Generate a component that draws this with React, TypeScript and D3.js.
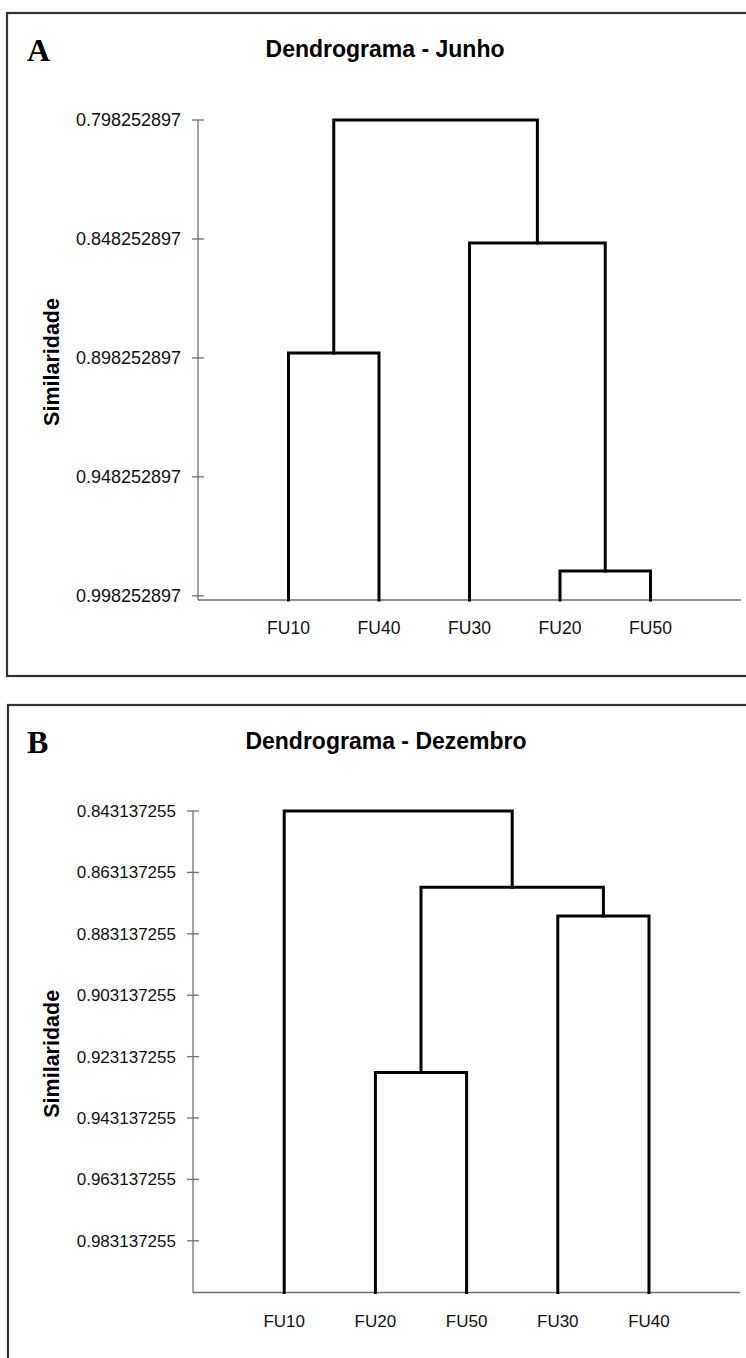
import React from "react";
import * as d3 from "d3";

// ---- Panel A (Junho) ----
const junhoLeaves = ["FU10", "FU40", "FU30", "FU20", "FU50"];
// merges: node ids 0..4 are leaves, 5.. are merges in order
const junhoMergeLeft = [3, 0, 2, 6];
const junhoMergeRight = [4, 1, 5, 7];
const junhoMergeHeight = [0.9878, 0.8962, 0.8499, 0.798252897];
const junhoTicks = [0.798252897, 0.848252897, 0.898252897, 0.948252897, 0.998252897];

// ---- Panel B (Dezembro) ----
const dezLeaves = ["FU10", "FU20", "FU50", "FU30", "FU40"];
const dezMergeLeft = [1, 3, 5, 0];
const dezMergeRight = [2, 4, 6, 7];
const dezMergeHeight = [0.9283, 0.8773, 0.868, 0.843137255];
const dezTicks = [
  0.843137255, 0.863137255, 0.883137255, 0.903137255,
  0.923137255, 0.943137255, 0.963137255, 0.983137255,
];

const FONT = "'Liberation Sans', Arial, Helvetica, sans-serif";

type PanelProps = {
  letter: string;
  title: string;
  leaves: string[];
  mergeLeft: number[];
  mergeRight: number[];
  mergeHeight: number[];
  ticks: number[];
  frame: { x: number; y: number; w: number; h: number };
  axisX: number;
  step: number;
  yTop: number;
  yBottom: number;
  titleX: number;
  titleY: number;
  titleSize: number;
  letterY: number;
  yLabelSize: number;
  tickSize: number;
  leafSize: number;
};

function Panel(p: PanelProps) {
  const y = d3.scaleLinear().domain([p.ticks[0], 1]).range([p.yTop, p.yBottom]);
  const x = d3.scaleLinear().domain([0, p.leaves.length + 1]).range([p.axisX, p.axisX + (p.leaves.length + 1) * p.step]);

  const n = p.leaves.length;
  const nodeX: number[] = p.leaves.map((_, i) => x(i + 1));
  const nodeH: number[] = p.leaves.map(() => 1);
  const paths: string[] = [];
  p.mergeLeft.forEach((l, k) => {
    const r = p.mergeRight[k];
    const h = p.mergeHeight[k];
    const path = d3.path();
    path.moveTo(nodeX[l], y(nodeH[l]));
    path.lineTo(nodeX[l], y(h));
    path.lineTo(nodeX[r], y(h));
    path.lineTo(nodeX[r], y(nodeH[r]));
    paths.push(path.toString());
    nodeX[n + k] = (nodeX[l] + nodeX[r]) / 2;
    nodeH[n + k] = h;
  });

  const axisColor = "#707070";
  const yMid = (y(p.ticks[0]) + y(1)) / 2;
  return (
    <g>
      <rect x={p.frame.x} y={p.frame.y} width={p.frame.w} height={p.frame.h} fill="white" stroke="#333" strokeWidth={2.2} />
      <text x={27} y={p.letterY} fontFamily="'Liberation Serif', 'Times New Roman', serif" fontWeight="bold" fontSize={32} fill="#000">
        {p.letter}
      </text>
      <text x={p.titleX} y={p.titleY} textAnchor="middle" fontFamily={FONT} fontWeight="bold" fontSize={p.titleSize} fill="#000">
        {p.title}
      </text>
      <text
        transform={`translate(59,${yMid + 2}) rotate(-90)`}
        textAnchor="middle"
        fontFamily={FONT}
        fontWeight="bold"
        fontSize={p.yLabelSize}
        fill="#000"
      >
        Similaridade
      </text>
      {/* y axis */}
      <line x1={p.axisX} x2={p.axisX} y1={y(p.ticks[0])} y2={y(1)} stroke={axisColor} strokeWidth={1.3} />
      {p.ticks.map((t) => (
        <g key={t}>
          <line x1={p.axisX - 6} x2={p.axisX + 6} y1={y(t)} y2={y(t)} stroke={axisColor} strokeWidth={1.3} />
          <text x={p.axisX - 17} y={y(t)} dy="0.35em" textAnchor="end" fontFamily={FONT} fontSize={p.tickSize} fill="#111">
            {t.toFixed(9)}
          </text>
        </g>
      ))}
      {/* baseline */}
      <line x1={p.axisX} x2={x(n + 1)} y1={y(1)} y2={y(1)} stroke={axisColor} strokeWidth={1.5} />
      {/* dendrogram */}
      {paths.map((d, i) => (
        <path key={i} d={d} fill="none" stroke="#000" strokeWidth={3} strokeLinejoin="miter" strokeLinecap="square" />
      ))}
      {p.leaves.map((name, i) => (
        <text key={name} x={x(i + 1)} y={y(1) + 34} textAnchor="middle" fontFamily={FONT} fontSize={p.leafSize} fill="#111">
          {name}
        </text>
      ))}
    </g>
  );
}

export default function App() {
  return (
    <svg width={746} height={1358} style={{ position: "absolute", left: 0, top: 0, background: "white" }}>
      <rect x={0} y={0} width={746} height={1358} fill="white" />
      <Panel
        letter="A"
        title="Dendrograma - Junho"
        leaves={junhoLeaves}
        mergeLeft={junhoMergeLeft}
        mergeRight={junhoMergeRight}
        mergeHeight={junhoMergeHeight}
        ticks={junhoTicks}
        frame={{ x: 7, y: 13, w: 760, h: 663 }}
        axisX={198}
        step={90.5}
        yTop={120}
        yBottom={600}
        titleX={385}
        titleY={57}
        titleSize={23}
        letterY={61}
        yLabelSize={21.5}
        tickSize={18}
        leafSize={17.5}
      />
      <Panel
        letter="B"
        title="Dendrograma - Dezembro"
        leaves={dezLeaves}
        mergeLeft={dezMergeLeft}
        mergeRight={dezMergeRight}
        mergeHeight={dezMergeHeight}
        ticks={dezTicks}
        frame={{ x: 8, y: 705, w: 760, h: 700 }}
        axisX={193}
        step={91.2}
        yTop={811}
        yBottom={1292.6}
        titleX={386}
        titleY={749}
        titleSize={23}
        letterY={753}
        yLabelSize={21.5}
        tickSize={17}
        leafSize={17}
      />
    </svg>
  );
}
